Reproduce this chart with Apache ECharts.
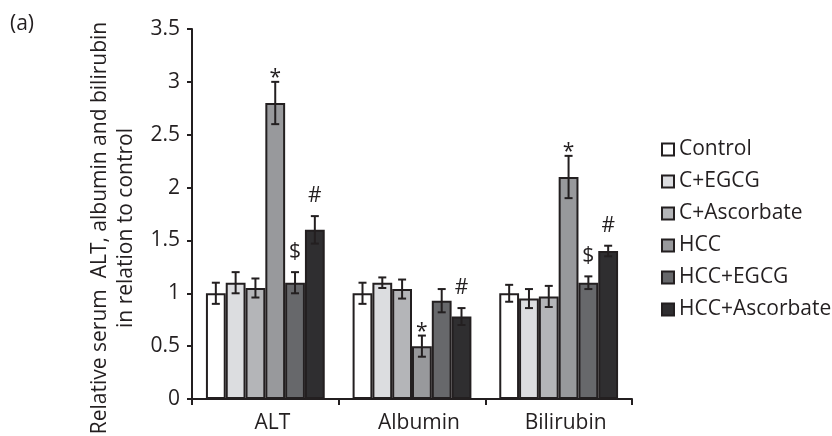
<!DOCTYPE html>
<html>
<head>
<meta charset="utf-8">
<script src="https://cdn.jsdelivr.net/npm/echarts@6/dist/echarts.min.js"></script>
<style>
  html, body { margin: 0; padding: 0; background: #fff; }
  #chart { width: 832px; height: 436px; }
</style>
</head>
<body>
<div id="chart"></div>
<script>
// Serum markers, relative to control
const categories = ['ALT', 'Albumin', 'Bilirubin'];
const groupNames = ['Control', 'C+EGCG', 'C+Ascorbate', 'HCC', 'HCC+EGCG', 'HCC+Ascorbate'];

const controlVals      = [1.00, 1.00, 1.00];
const cEgcgVals        = [1.10, 1.10, 0.95];
const cAscorbateVals   = [1.05, 1.04, 0.97];
const hccVals          = [2.80, 0.50, 2.10];
const hccEgcgVals      = [1.10, 0.93, 1.10];
const hccAscorbateVals = [1.60, 0.78, 1.40];

// Error bar half-widths
const controlErr      = [0.10, 0.10, 0.08];
const cEgcgErr        = [0.10, 0.05, 0.09];
const cAscorbateErr   = [0.09, 0.09, 0.10];
const hccErr          = [0.20, 0.10, 0.20];
const hccEgcgErr      = [0.10, 0.11, 0.06];
const hccAscorbateErr = [0.13, 0.08, 0.05];

// Significance marks
const controlMarks      = ['', '', ''];
const cEgcgMarks        = ['', '', ''];
const cAscorbateMarks   = ['', '', ''];
const hccMarks          = ['*', '*', '*'];
const hccEgcgMarks      = ['$', '', '$'];
const hccAscorbateMarks = ['#', '#', '#'];

const yTicks = { min: 0, max: 3.5, interval: 0.5 };

const values = [controlVals, cEgcgVals, cAscorbateVals, hccVals, hccEgcgVals, hccAscorbateVals];
const errors = [controlErr, cEgcgErr, cAscorbateErr, hccErr, hccEgcgErr, hccAscorbateErr];
const marks = [controlMarks, cEgcgMarks, cAscorbateMarks, hccMarks, hccEgcgMarks, hccAscorbateMarks];
const fills = ['#ffffff', '#dcdde0', '#b4b5b8', '#98999c', '#67686b', '#2f2e30'];

const INK = '#231f20';
const FONT = '"Open Sans", "Noto Sans", sans-serif';
const FS = 21;
const CAT_GAP = 0.19;

const barSeries = groupNames.map((name, i) => ({
  name: name,
  type: 'bar',
  data: values[i],
  barGap: '0%',
  barCategoryGap: (CAT_GAP * 100) + '%',
  itemStyle: { color: fills[i], borderColor: INK, borderWidth: 2 },
  emphasis: { disabled: true },
  z: 2
}));

const errSeries = groupNames.map((name, i) => ({
  type: 'custom',
  name: name + ' err',
  data: categories.map((c, k) => [k, values[i][k], errors[i][k]]),
  z: 5,
  silent: true,
  renderItem: function (params, api) {
    const k = api.value(0);
    const v = api.value(1);
    const e = api.value(2);
    const mark = marks[i][k];
    const band = api.size([1, 0])[0];
    const groupW = band * (1 - CAT_GAP);
    const barW = groupW / groupNames.length;
    const center = api.coord([k, v]);
    const x = center[0] - groupW / 2 + (i + 0.5) * barW;
    const yTop = api.coord([k, v + e])[1];
    const yBot = api.coord([k, v - e])[1];
    const cap = 4;
    const ls = { stroke: INK, lineWidth: 2 };
    const children = [
      { type: 'line', shape: { x1: x, y1: yTop, x2: x, y2: yBot }, style: ls },
      { type: 'line', shape: { x1: x - cap, y1: yTop, x2: x + cap, y2: yTop }, style: ls },
      { type: 'line', shape: { x1: x - cap, y1: yBot, x2: x + cap, y2: yBot }, style: ls }
    ];
    if (mark) {
      const off = mark === '*' ? 4 : 20;
      children.push({
        type: 'text',
        style: {
          x: x, y: yTop - off, text: mark,
          align: 'center', verticalAlign: 'middle',
          fontFamily: FONT, fontSize: FS, fill: INK
        }
      });
    }
    return { type: 'group', children: children };
  }
}));

const chart = echarts.init(document.getElementById('chart'), null, { renderer: 'canvas' });
chart.setOption({
  animation: false,
  backgroundColor: '#ffffff',
  textStyle: { fontFamily: FONT, color: INK },
  grid: { left: 192, right: 200, top: 29, bottom: 37 },
  legend: {
    data: groupNames,
    orient: 'vertical',
    left: 656,
    top: 134,
    itemWidth: 12,
    itemHeight: 12,
    itemGap: 11,
    icon: 'rect',
    selectedMode: false,
    textStyle: { fontFamily: FONT, fontSize: FS, color: INK, lineHeight: 20 }
  },
  xAxis: {
    type: 'category',
    data: categories,
    axisLine: { lineStyle: { color: INK, width: 2 } },
    axisTick: { show: true, length: 6, lineStyle: { color: INK, width: 2 } },
    axisLabel: { fontFamily: FONT, fontSize: FS, color: INK, margin: 14, padding: [0, 0, 0, 14] }
  },
  yAxis: {
    type: 'value',
    min: yTicks.min,
    max: yTicks.max,
    interval: yTicks.interval,
    splitLine: { show: false },
    axisLine: { show: true, lineStyle: { color: INK, width: 2 } },
    axisTick: { show: true, length: 5, lineStyle: { color: INK, width: 2 } },
    axisLabel: { fontFamily: FONT, fontSize: FS, color: INK, margin: 12 }
  },
  graphic: [
    {
      type: 'text', left: 10, top: 14,
      style: { text: '(a)', fontFamily: FONT, fontSize: FS, fill: INK }
    },
    {
      type: 'text', x: 113, y: 228, rotation: Math.PI / 2,
      style: {
        text: 'Relative serum  ALT, albumin and bilirubin\nin relation to control',
        align: 'center', verticalAlign: 'middle',
        fontFamily: FONT, fontSize: FS, lineHeight: 26, fill: INK
      }
    }
  ],
  series: barSeries.concat(errSeries)
});
</script>
</body>
</html>
